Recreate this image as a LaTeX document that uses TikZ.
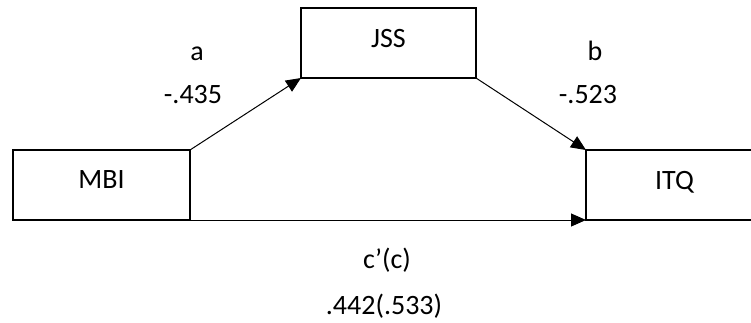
\documentclass[tikz,border=0pt]{standalone}
\usepackage{fontspec}
\setmainfont{Carlito}
\usetikzlibrary{arrows.meta}

\begin{document}
\begin{tikzpicture}[
    x=1pt, y=-1pt,
    font=\fontsize{28}{34}\selectfont,
    var/.style={draw, line width=2pt, inner sep=0pt, outer sep=0pt, minimum height=70pt, text depth=10pt},
    coef/.style={anchor=base, inner sep=0pt},
    arrow/.style={-{Triangle[length=15pt, width=13pt]}, line width=1pt}
]
\useasboundingbox (0,0) rectangle (751,322);

% variables
\node[var, minimum width=177pt] (mbi) at (101.5,185) {MBI};
\node[var, minimum width=175pt] (jss) at (388.5,43) {JSS};
\node[var, minimum width=177pt] (itq) at (674.5,185) {ITQ};

% paths
\draw[arrow] (mbi.north east) -- (jss.south west);
\draw[arrow] (jss.south east) -- (itq.north west);
\draw[arrow] (mbi.south east) -- (itq.south west);

% coefficients
\node[coef] (apath) at (197,60) {a};
\node[coef] (acoef) at (193,103) {-.435};
\node[coef] (bpath) at (595,60) {b};
\node[coef] (bcoef) at (588,103) {-.523};
\node[coef] (cpath) at (387,268) {c’(c)};
\node[coef] (ccoef) at (384,314) {.442(.533)};
\end{tikzpicture}
\end{document}
